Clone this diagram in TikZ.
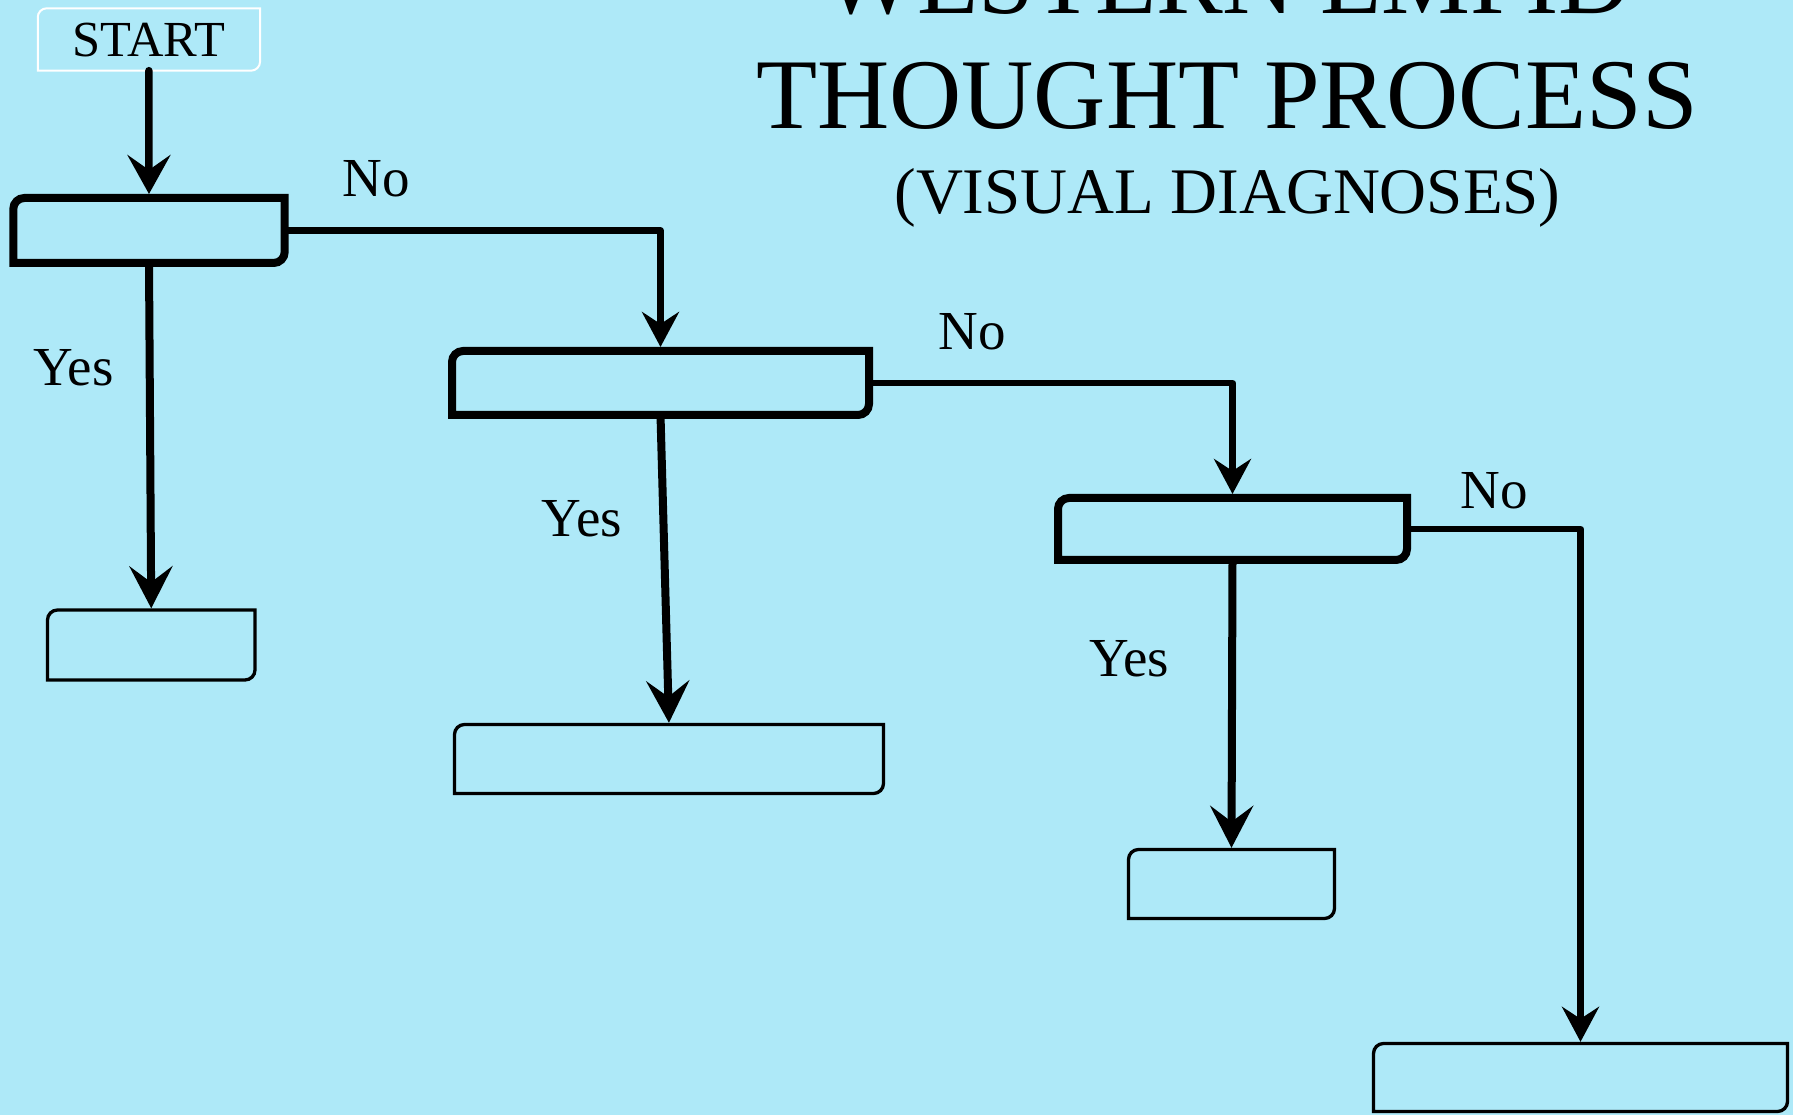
\documentclass[tikz,border=0pt]{standalone}
\usepackage{fontspec}
\setmainfont{Liberation Serif}
\usetikzlibrary{arrows.meta}
\definecolor{bgc}{RGB}{174,233,248}
% box border: rounded top-left and bottom-right corners, sharp others
\newcommand\hrbox[3]{%
  \draw[#3] (#1.north east) -- ([yshift=#2]#1.south east)
    arc[start angle=0,end angle=-90,radius=#2] -- (#1.south west)
    -- ([yshift=-#2]#1.north west) arc[start angle=180,end angle=90,radius=#2] -- cycle;}
\begin{document}
\begin{tikzpicture}[x=1pt,y=1pt,
  box/.style={rectangle, inner sep=0pt, outer sep=0pt},
  decline/.style={line width=8pt, draw=black, line join=miter},
  resline/.style={line width=3.3pt, draw=black, line join=miter},
  startline/.style={line width=2pt, draw=white},
  yesarrow/.style={line width=8pt, -{Stealth[length=42pt,width=43pt,inset=16pt]}},
  startarrow/.style={line width=7.5pt, line cap=round, -{Stealth[length=39pt,width=43pt,inset=15pt]}},
  noarrow/.style={line width=6.5pt, line join=round, -{Stealth[length=35pt,width=37pt,inset=12pt]}},
  lbl/.style={anchor=base, inner sep=0pt, font=\fontsize{55pt}{60pt}\selectfont},
  ttl/.style={anchor=base, inner sep=0pt, font=\fontsize{100pt}{115pt}\selectfont},
]
\useasboundingbox (0,0) rectangle (1793,1115);
\fill[bgc] (0,0) rectangle (1793,1115);
\begin{scope}
\clip (0,0) rectangle (1793,1115);
% titles
\node[ttl] (t1) at (1227,1101) {WESTERN EMPID};
\node[ttl] (t2) at (1227,986) {THOUGHT PROCESS};
\node[anchor=base, inner sep=0pt, font=\fontsize{65pt}{75pt}\selectfont] (t3) at (1227.5,901) {(VISUAL DIAGNOSES)};

% boxes
\node[box, minimum width=222.3pt, minimum height=62.4pt] (start) at (148.9,1075.5) {};
\node[anchor=base, inner sep=0pt, font=\fontsize{50.5pt}{58pt}\selectfont] (starttxt) at (149,1058) {START};
\node[box, minimum width=271.4pt, minimum height=65pt] (d1) at (149,884.5) {};
\node[box, minimum width=417pt, minimum height=64pt] (d2) at (660.5,732) {};
\node[box, minimum width=349pt, minimum height=62pt] (d3) at (1232.5,586) {};
\node[box, minimum width=207.5pt, minimum height=70pt] (r1) at (151.25,470) {};
\node[box, minimum width=429pt, minimum height=69pt] (r2) at (669,356) {};
\node[box, minimum width=206pt, minimum height=69pt] (r3) at (1231.5,231) {};
\node[box, minimum width=414pt, minimum height=68pt] (r4) at (1580.5,37.5) {};

\hrbox{start}{9pt}{startline}
\hrbox{d1}{11pt}{decline}
\hrbox{d2}{11pt}{decline}
\hrbox{d3}{11pt}{decline}
\hrbox{r1}{10pt}{resline}
\hrbox{r2}{10pt}{resline}
\hrbox{r3}{10pt}{resline}
\hrbox{r4}{10pt}{resline}

% connectors
\draw[startarrow, shorten >=4pt] (start.south) -- (d1.north);
\draw[yesarrow, shorten >=1.65pt] (d1.south) -- (r1.north);
\draw[yesarrow, shorten >=1.65pt] (d2.south) -- (r2.north);
\draw[yesarrow, shorten >=1.65pt] (d3.south) -- (r3.north);
\draw[noarrow, shorten >=4pt] (d1.east) -| (d2.north);
\draw[noarrow, shorten >=4pt] (d2.east) -| (d3.north);
\draw[noarrow, shorten >=1.65pt] (d3.east) -| (r4.north);

% labels
\node[lbl] (no1) at (376,918) {No};
\node[lbl] (no2) at (972,765) {No};
\node[lbl] (no3) at (1494,606) {No};
\node[lbl] (yes1) at (73.5,729) {Yes};
\node[lbl] (yes2) at (582,578) {Yes};
\node[lbl] (yes3) at (1129,438) {Yes};
\end{scope}
\end{tikzpicture}
\end{document}
